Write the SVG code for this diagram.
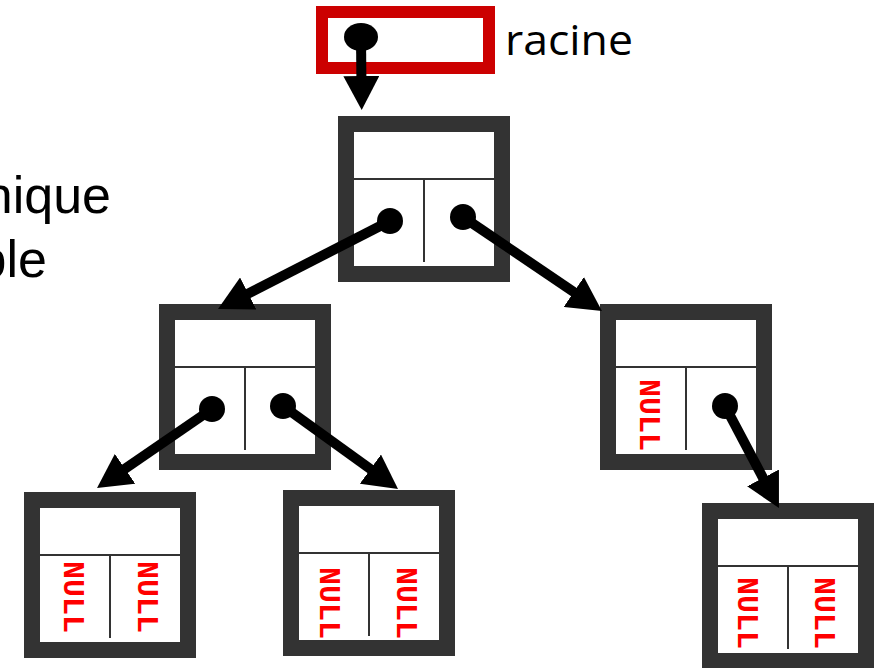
<svg xmlns="http://www.w3.org/2000/svg" xmlns:xlink="http://www.w3.org/1999/xlink" width="884" height="668" viewBox="0 0 884 668">
<style>
.frame{fill:#fff;stroke:#333;stroke-width:16}
.sep{stroke:#333;stroke-width:2;fill:none}
.null{font-family:"Liberation Mono","Courier New",monospace;font-weight:bold;font-size:30px;fill:#ff0000;text-anchor:middle}
.conn{stroke:#000;stroke-width:10;fill:none;marker-end:url(#arr)}
.dot{fill:#000}
.lbl{font-family:"Liberation Sans",Arial,sans-serif;font-size:52px;fill:#000;text-anchor:end}
</style>
<defs>
<marker id="arr" markerUnits="userSpaceOnUse" markerWidth="34" markerHeight="36" viewBox="0 0 34 36" refX="14" refY="18" orient="auto">
<path d="M0,0 L34,18 L0,36 Z" fill="#000"/>
</marker>
<g id="nodeShape">
<rect class="frame" x="-8" y="-8" width="156" height="150"/>
<line class="sep" x1="0" y1="47" x2="140" y2="47"/>
<line class="sep" x1="70" y1="47" x2="70" y2="130"/>
</g>
</defs>
<rect width="884" height="668" fill="#fff"/>
<g id="title">
<text class="lbl" x="111" y="213">nique</text>
<text class="lbl" x="47" y="277">ple</text>
</g>
<g id="racine">
<rect x="322" y="12" width="167" height="56" fill="#fff" stroke="#cc0000" stroke-width="12"/>
<text x="505" y="55" font-family="'Open Sans','Liberation Sans',sans-serif" font-size="42" textLength="128" lengthAdjust="spacingAndGlyphs" fill="#000">racine</text>
</g>
<g id="node-root">
<use xlink:href="#nodeShape" transform="translate(354,132)"/>
</g>
<g id="node-left">
<use xlink:href="#nodeShape" transform="translate(175,320)"/>
</g>
<g id="node-right">
<use xlink:href="#nodeShape" transform="translate(616,320)"/>
<text class="null" transform="translate(640,415) rotate(90)">NULL</text>
</g>
<g id="node-left-left">
<use xlink:href="#nodeShape" transform="translate(40,508)"/>
<text class="null" transform="translate(64,597) rotate(90)">NULL</text>
<text class="null" transform="translate(138,597) rotate(90)">NULL</text>
</g>
<g id="node-left-right">
<use xlink:href="#nodeShape" transform="translate(299,506)"/>
<text class="null" transform="translate(320,603) rotate(90)">NULL</text>
<text class="null" transform="translate(397,603) rotate(90)">NULL</text>
</g>
<g id="node-right-right">
<use xlink:href="#nodeShape" transform="translate(718,519)"/>
<text class="null" transform="translate(738,613) rotate(90)">NULL</text>
<text class="null" transform="translate(815,613) rotate(90)">NULL</text>
</g>
<g id="connectors">
<ellipse class="dot" cx="361" cy="37" rx="17" ry="14"/>
<line class="conn" x1="361" y1="37" x2="361.5" y2="90"/>
<circle class="dot" cx="390" cy="221" r="13"/>
<line class="conn" x1="390" y1="221" x2="235.8" y2="299.9"/>
<circle class="dot" cx="463" cy="217" r="13"/>
<line class="conn" x1="463" y1="217" x2="585.4" y2="299.8"/>
<circle class="dot" cx="212" cy="409" r="13"/>
<line class="conn" x1="212" y1="409" x2="113.5" y2="476.7"/>
<circle class="dot" cx="283" cy="406" r="13"/>
<line class="conn" x1="283" y1="406" x2="381.8" y2="477.3"/>
<circle class="dot" cx="725" cy="406" r="13"/>
<line class="conn" x1="725" y1="406" x2="769.6" y2="490.3"/>
</g>
</svg>
